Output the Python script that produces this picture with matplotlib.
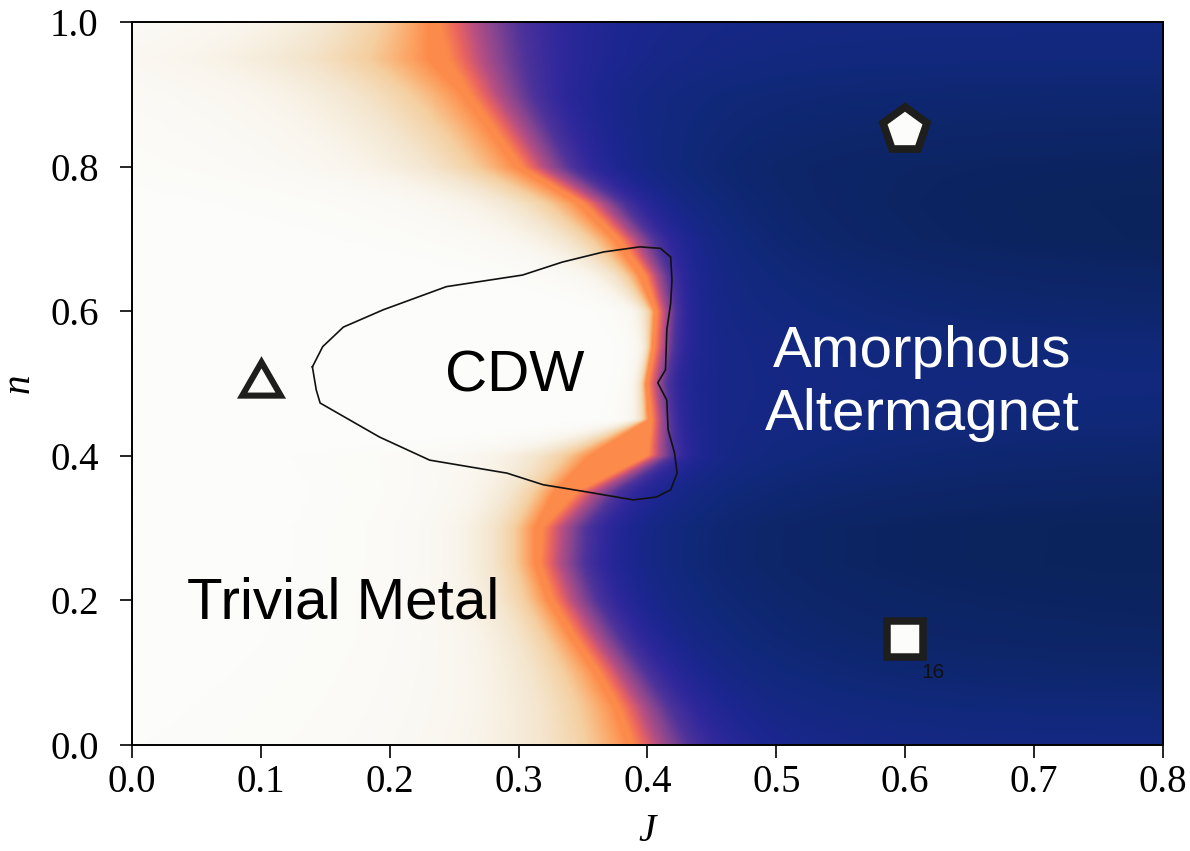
import numpy as np
import matplotlib
matplotlib.use("Agg")
import matplotlib.pyplot as plt
from matplotlib.colors import LinearSegmentedColormap

n_rows = [0.0, 0.05, 0.1, 0.15, 0.2, 0.25, 0.3, 0.35, 0.4, 0.45, 0.5,
          0.55, 0.6, 0.65, 0.7, 0.75, 0.8, 0.85, 0.9, 0.95, 1.0]
# J where the orange ridge sits
j_edge = [0.388, 0.378, 0.362, 0.343, 0.326, 0.316, 0.318, 0.345, 0.400, 0.403, 0.400,
          0.405, 0.407, 0.398, 0.378, 0.350, 0.302, 0.282, 0.262, 0.245, 0.238]
# width of the solid orange band left of the ridge
core = [0.004, 0.004, 0.004, 0.004, 0.004, 0.004, 0.006, 0.018, 0.045, 0.003, 0.002,
        0.002, 0.002, 0.005, 0.005, 0.005, 0.005, 0.005, 0.006, 0.015, 0.008]
# width of the pale halo on the metal side
halo = [0.080, 0.070, 0.060, 0.050, 0.045, 0.040, 0.040, 0.040, 0.050, 0.008, 0.006,
        0.006, 0.010, 0.025, 0.045, 0.060, 0.080, 0.090, 0.100, 0.120, 0.090]
# width of the orange -> blue step on the magnet side
step = [0.045, 0.042, 0.040, 0.040, 0.040, 0.040, 0.040, 0.035, 0.020, 0.015, 0.015,
        0.015, 0.015, 0.020, 0.030, 0.035, 0.045, 0.050, 0.055, 0.065, 0.065]
# how dark the magnet side gets far from the edge
depth = [0.89, 0.92, 0.95, 0.97, 0.98, 0.99, 0.99, 0.97, 0.95, 0.92, 0.91,
         0.92, 0.95, 0.97, 0.99, 0.99, 0.98, 0.96, 0.94, 0.91, 0.89]

# CDW contour
cdw_J = [0.140, 0.148, 0.164, 0.195, 0.244, 0.303, 0.334, 0.366, 0.394, 0.410, 0.418,
         0.419, 0.418, 0.415, 0.414, 0.408, 0.415, 0.416, 0.421, 0.423, 0.418, 0.407,
         0.389, 0.353, 0.319, 0.291, 0.231, 0.192, 0.146, 0.143, 0.140]
cdw_n = [0.523, 0.551, 0.578, 0.602, 0.634, 0.650, 0.668, 0.682, 0.689, 0.687, 0.675,
         0.643, 0.611, 0.574, 0.519, 0.501, 0.477, 0.436, 0.404, 0.376, 0.353, 0.343,
         0.339, 0.350, 0.360, 0.376, 0.394, 0.426, 0.473, 0.491, 0.523]

cmap = LinearSegmentedColormap.from_list("phase", [
    (0.00, "#fcfcfa"), (0.08, "#faf6ee"), (0.18, "#f4e6cf"), (0.28, "#f5cfa0"),
    (0.36, "#fba868"), (0.42, "#fd8a4a"), (0.49, "#ea6460"), (0.56, "#b84f82"),
    (0.63, "#864590"), (0.70, "#4e339a"), (0.77, "#30289c"), (0.84, "#1c2690"),
    (0.91, "#11297c"), (1.00, "#0a2358")])

jj = np.linspace(0, 0.8, 600)
nn = np.linspace(0, 1, 400)
J, N = np.meshgrid(jj, nn)
jc = np.interp(nn, n_rows, j_edge)[:, None]
wc = np.interp(nn, n_rows, core)[:, None]
wl = np.interp(nn, n_rows, halo)[:, None]
wr = np.interp(nn, n_rows, step)[:, None]
dp = np.interp(nn, n_rows, depth)[:, None]
x = J - jc
xl = np.maximum(-x - wc, 0)
xr = np.maximum(x, 0)
left = 0.42 * np.exp(-xl / wl)
right = 0.42 + 0.42 * (1 - np.exp(-(xr / wr) ** 1.1)) + (dp - 0.84) * (1 - np.exp(-xr / 0.12))
field = np.where(x < 0, left, right)

fig = plt.figure(figsize=(11.9, 8.51), dpi=100)
ax = fig.add_axes([0.1109, 0.1246, 0.8664, 0.8495])
ax.imshow(field, extent=[0, 0.8, 0, 1], origin="lower", aspect="auto",
          cmap=cmap, vmin=0, vmax=1, interpolation="bilinear")
ax.plot(cdw_J, cdw_n, color="#111111", lw=1.2)

edge = "#1e1e1c"
face = "#fcfcfa"
ax.plot(0.1, 0.5, marker=(3, 0, 0), ms=32, mfc=face, mec=edge, mew=4.4)
ax.plot(0.6, 0.85, marker="p", ms=33, mfc=face, mec=edge, mew=5.5)
ax.plot(0.6, 0.147, marker="s", ms=26, mfc=face, mec=edge, mew=5.4)
ax.text(0.6215, 0.1, "16", fontsize=15, family="Liberation Sans", color="#111111",
        ha="center", va="center")

ax.text(0.297, 0.509, "CDW", fontsize=42, family="Liberation Sans", ha="center", va="center")
ax.text(0.164, 0.196, "Trivial Metal", fontsize=42, family="Liberation Sans", ha="center", va="center")
ax.text(0.613, 0.50, "Amorphous\nAltermagnet", fontsize=42, family="Liberation Sans",
        color="white", ha="center", va="center", linespacing=1.2)

ax.set_xlim(0, 0.8)
ax.set_ylim(0, 1)
ax.set_xticks(np.arange(0, 0.81, 0.1))
ax.set_yticks(np.arange(0, 1.01, 0.2))
ax.tick_params(direction="out", length=9, width=1.2, pad=5, labelsize=28)
ax.tick_params(axis="y", pad=15)
for lab in ax.get_xticklabels() + ax.get_yticklabels():
    lab.set_family("Liberation Serif")
for s in ax.spines.values():
    s.set_linewidth(1.4)
ax.set_xlabel("J", fontsize=28, family="Liberation Serif", style="italic", labelpad=8)
ax.set_ylabel("n", fontsize=28, family="Liberation Serif", style="italic", labelpad=9)

fig.savefig("out.png", dpi=100)
